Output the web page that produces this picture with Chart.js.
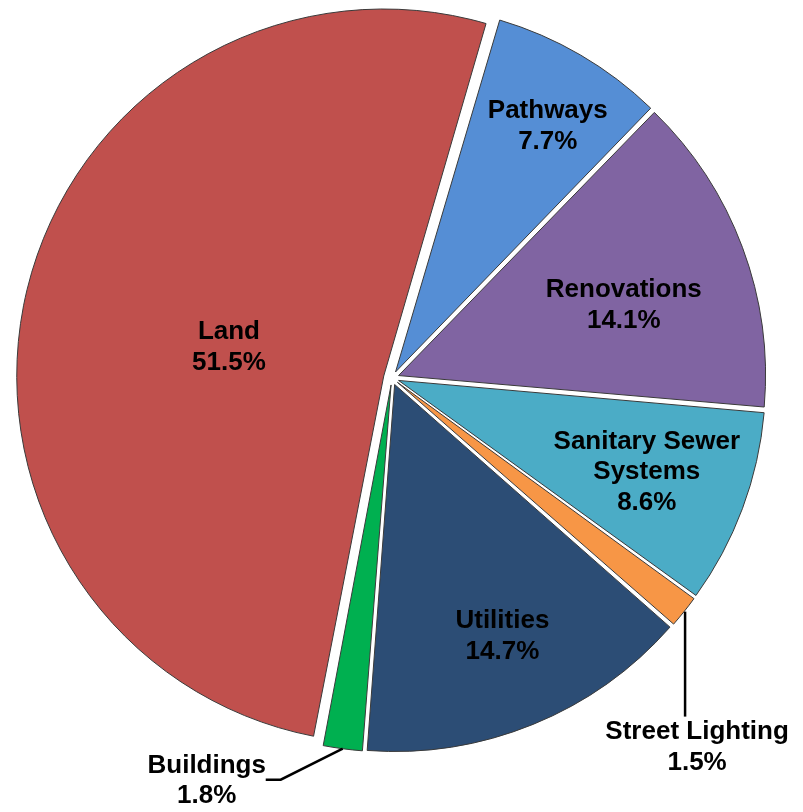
<!DOCTYPE html>
<html>
<head>
<meta charset="utf-8">
<title>Capital spending pie</title>
<script src="https://cdn.jsdelivr.net/npm/chart.js@4.4.1/dist/chart.umd.min.js"></script>
<style>
  html, body { margin: 0; padding: 0; background: #fff; }
  #wrap { width: 803px; height: 812px; }
</style>
</head>
<body>
<div id="wrap"><canvas id="pieChart"></canvas></div>
<script>
// data, clockwise starting from the top
const categories = ['Pathways', 'Renovations', ['Sanitary Sewer', 'Systems'], 'Street Lighting', 'Utilities', 'Buildings', 'Land'];
const shares = [7.7, 14.1, 8.6, 1.5, 14.7, 1.8, 51.5];
const sliceColors = ['#558ED5', '#8064A2', '#4BACC6', '#F79646', '#2C4D75', '#00B050', '#C0504D'];

const FONT = 'bold 26px "Liberation Sans", Arial, sans-serif';
const LINE_H = 30.5;

// where the text sits inside a slice: fraction of radius, angle nudge in degrees
const insideSpot = { 0: [0.806, 1.5], 1: [0.662, 3.0], 2: [0.74, -0.2], 4: [0.765, -1.0], 6: [0.452, -3.0] };

function drawLines(ctx, lines, x, y) {
    const top = y - (lines.length - 1) * LINE_H / 2;
    lines.forEach((t, k) => ctx.fillText(t, x, top + k * LINE_H));
}

// chart.js grows the radius of exploded slices a bit, undo that so all rims match
const fixRadius = {
    id: 'fixRadius',
    beforeDatasetsDraw(chart) {
        const meta = chart.getDatasetMeta(0);
        const r = meta.controller.outerRadius;
        meta.data.forEach(arc => {
            const off = (arc.options.offset || 0) / 4;
            const fix = 1 - Math.sin(Math.min(Math.PI, arc.circumference));
            arc.outerRadius = r - off * fix;
        });
    }
};

const sliceLabels = {
    id: 'sliceLabels',
    afterDatasetsDraw(chart) {
        const ctx = chart.ctx;
        const meta = chart.getDatasetMeta(0);
        const R = meta.controller.outerRadius;
        ctx.save();
        ctx.font = FONT;
        ctx.fillStyle = '#000';
        ctx.strokeStyle = '#000';
        ctx.lineWidth = 2.5;
        ctx.textAlign = 'center';
        ctx.textBaseline = 'middle';
        meta.data.forEach((arc, i) => {
            const lines = [].concat(categories[i], shares[i].toFixed(1) + '%');
            const mid = (arc.startAngle + arc.endAngle) / 2;
            if (insideSpot[i]) {
                const [f, nudge] = insideSpot[i];
                const a = mid + nudge * Math.PI / 180;
                drawLines(ctx, lines, arc.x + Math.cos(a) * R * f, arc.y + Math.sin(a) * R * f);
                return;
            }
            // thin slices get the label outside with a leader line
            const shift = (arc.options.offset || 0) / 4;
            const ex = arc.x + Math.cos(mid) * (R + shift);
            const ey = arc.y + Math.sin(mid) * (R + shift);
            ctx.beginPath();
            if (Math.cos(mid) > 0) {
                ctx.moveTo(ex + 1, ey);
                ctx.lineTo(ex + 1, ey + 105);
                ctx.stroke();
                drawLines(ctx, lines, ex + 13, ey + 135.5);
            } else {
                ctx.moveTo(ex, ey);
                ctx.lineTo(ex - 62, ey + 31);
                ctx.lineTo(ex - 77, ey + 31);
                ctx.stroke();
                drawLines(ctx, lines, ex - 136, ey + 32);
            }
        });
        ctx.restore();
    }
};

const pieChart = new Chart(document.getElementById('pieChart'), {
    type: 'pie',
    data: {
        labels: categories,
        datasets: [{
            data: shares,
            backgroundColor: sliceColors,
            borderColor: '#3a3a3a',
            borderWidth: 1,
            offset: shares.map((v, i) => i === 6 ? 34 : 28),
            radius: 367
        }]
    },
    options: {
        responsive: true,
        maintainAspectRatio: false,
        animation: false,
        rotation: 16.4,
        layout: { padding: { left: 0, top: 0, right: 19, bottom: 56 } },
        plugins: {
            legend: { display: false },
            tooltip: { enabled: false }
        }
    },
    plugins: [fixRadius, sliceLabels]
});
</script>
</body>
</html>
